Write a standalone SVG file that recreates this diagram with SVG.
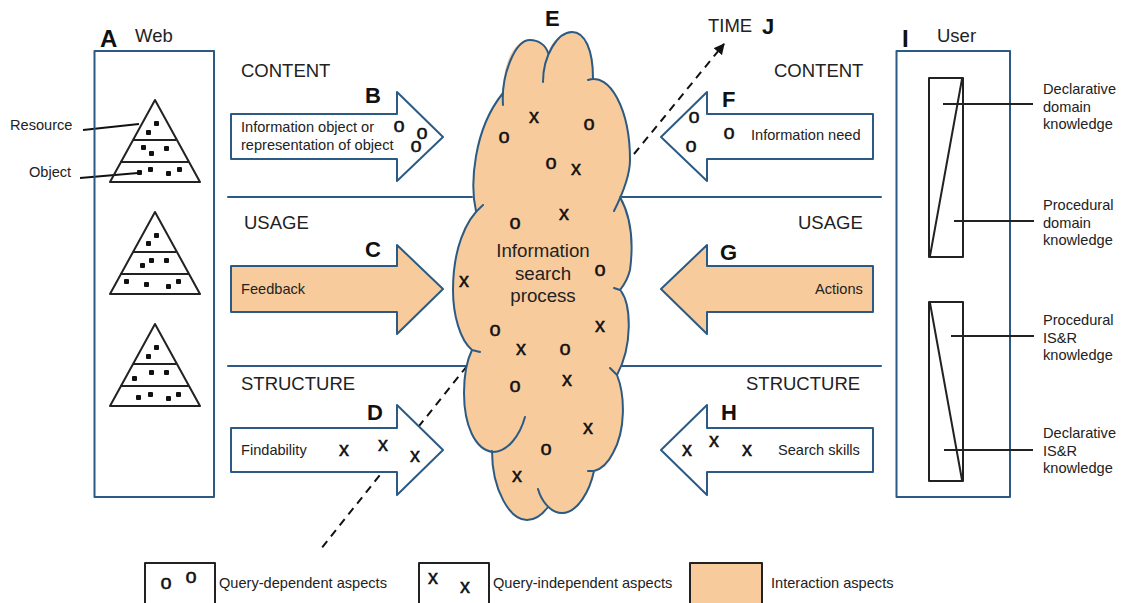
<svg xmlns="http://www.w3.org/2000/svg" width="1121" height="603" viewBox="0 0 1121 603">
<style>
text{font-family:"Liberation Sans",Arial,sans-serif;fill:#222}
.ln{fill:none;stroke:#2b5b84;stroke-width:2;stroke-linejoin:round;stroke-linecap:round}
.k{fill:none;stroke:#222;stroke-width:2;stroke-linejoin:round}
.w{fill:#fff}
.peach{fill:#f8cb9c}
.d{fill:#111;stroke:#111;stroke-width:2;stroke-linejoin:round}
.dash{stroke:#111;stroke-width:2;stroke-dasharray:8 6;fill:none}
.t{font-size:14.6px}
.h{font-size:18.500px}
.l{font-size:22px;font-weight:bold;fill:#111}
.m{font-size:20px;text-anchor:middle;fill:#111;stroke:#111;stroke-width:.5}
.c{font-size:18.700px;text-anchor:middle}
</style>
<defs>
<marker id="ah" viewBox="0 0 10 10" refX="9" refY="5" markerWidth="5.5" markerHeight="5.5" orient="auto"><path d="M0 0L10 5L0 10Z" fill="#111"/></marker>
<g id="dia"><path class="k" d="M155 0L200 82H110Z"/><path class="k" d="M133 40H176M120 62H189"/></g>
</defs>

<g id="connectors">
<path class="ln" d="M228 197H472M622 197H881M228 366H468M622 366H881"/>
<line class="dash" x1="634" y1="154" x2="724" y2="44" marker-end="url(#ah)"/>
<line class="dash" x1="467" y1="366" x2="320" y2="550"/>
<line x1="83" y1="130" x2="139" y2="124" stroke="#111" stroke-width="2"/>
<line x1="80" y1="178" x2="138" y2="173" stroke="#111" stroke-width="2"/>
</g>

<g id="web">
<rect class="ln" x="94.500" y="51" width="119.500" height="446"/>
<text x="135" y="42" style="font-size:18.500px">Web</text>
<text class="l" x="100" y="47" style="font-size:24px">A</text>
<g id="pyr1"><use href="#dia" y="100"/><path class="d" d="M155 122h3v3h-3zM147 131h3v3h-3zM142 146h3v3h-3zM150 152h3v3h-3zM165 147h3v3h-3zM138 171h3v3h-3zM149 168h3v3h-3zM167 172h3v3h-3zM178 168h3v3h-3z"/></g>
<g id="pyr2"><use href="#dia" y="212"/><path class="d" d="M155 234h3v3h-3zM147 242h3v3h-3zM141 264h3v3h-3zM150 259h3v3h-3zM165 259h3v3h-3zM125 280h3v3h-3zM145 283h3v3h-3zM167 285h3v3h-3zM177 280h3v3h-3z"/></g>
<g id="pyr3"><use href="#dia" y="324"/><path class="d" d="M155 346h3v3h-3zM147 355h3v3h-3zM133 377h3v3h-3zM150 371h3v3h-3zM165 371h3v3h-3zM137 396h3v3h-3zM149 393h3v3h-3zM167 397h3v3h-3zM177 393h3v3h-3z"/></g>
<text class="t" x="10" y="130">Resource</text>
<text class="t" x="29" y="177">Object</text>
</g>

<g id="user">
<rect class="ln" x="896.500" y="51" width="113.500" height="446"/>
<text x="937" y="42" style="font-size:18.500px">User</text>
<text class="l" x="902" y="47" style="font-size:24px">I</text>
<rect class="k" x="929" y="78" width="34" height="179"/>
<rect class="k" x="929" y="302" width="34" height="179"/>
<path class="k" d="M962 79L930 256M930 303L962 480M943 104H1033M954 221H1034M951 336H1034M944 450H1033"/>
<text class="t" x="1043" y="94">Declarative<tspan x="1043" dy="17.500">domain</tspan><tspan x="1043" dy="17.500">knowledge</tspan></text>
<text class="t" x="1043" y="210">Procedural<tspan x="1043" dy="17.500">domain</tspan><tspan x="1043" dy="17.500">knowledge</tspan></text>
<text class="t" x="1043" y="325">Procedural<tspan x="1043" dy="17.500">IS&amp;R</tspan><tspan x="1043" dy="17.500">knowledge</tspan></text>
<text class="t" x="1043" y="438">Declarative<tspan x="1043" dy="17.500">IS&amp;R</tspan><tspan x="1043" dy="17.500">knowledge</tspan></text>
</g>

<g id="node-b">
<path class="ln w" d="M231 114H397V92L443 137L397 181V159H231Z"/>
<text class="h" x="241" y="77">CONTENT</text>
<text class="l" x="365" y="103">B</text>
<text class="t" x="241" y="132">Information object or<tspan x="241" dy="18">representation of object</tspan></text>
<text class="m" x="399" y="132">o</text><text class="m" x="422" y="139">o</text><text class="m" x="416" y="152">o</text>
</g>
<g id="node-c">
<path class="ln peach" d="M231 266H397V245L443 289L397 334V312H231Z"/>
<text class="h" x="244" y="229">USAGE</text>
<text class="l" x="365" y="257">C</text>
<text class="t" x="241" y="294">Feedback</text>
</g>
<g id="node-d">
<path class="ln w" d="M231 428H397V405L443 450L397 495V472H231Z"/>
<text class="h" x="241" y="390">STRUCTURE</text>
<text class="l" x="367" y="420">D</text>
<text class="t" x="241" y="455">Findability</text>
<text class="m" x="344" y="456">x</text><text class="m" x="383" y="451">x</text><text class="m" x="415" y="462">x</text>
</g>
<g id="node-f">
<path class="ln w" d="M873 114H707V92L661 137L707 181V159H873Z"/>
<text class="h" x="774" y="77">CONTENT</text>
<text class="l" x="722" y="107">F</text>
<text class="t" x="751" y="140">Information need</text>
<text class="m" x="694" y="123">o</text><text class="m" x="729" y="139">o</text><text class="m" x="691" y="152">o</text>
</g>
<g id="node-g">
<path class="ln peach" d="M873 266H707V245L661 289L707 334V312H873Z"/>
<text class="h" x="798" y="229">USAGE</text>
<text class="l" x="720" y="260">G</text>
<text class="t" x="815" y="294">Actions</text>
</g>
<g id="node-h">
<path class="ln w" d="M873 428H707V405L661 450L707 495V472H873Z"/>
<text class="h" x="746" y="390">STRUCTURE</text>
<text class="l" x="721" y="420">H</text>
<text class="t" x="778" y="455">Search skills</text>
<text class="m" x="687" y="456">x</text><text class="m" x="714" y="447">x</text><text class="m" x="747" y="456">x</text>
</g>

<g id="node-e">
<path class="peach" d="M503 93C503 60 515 40 530 40C538 40 545 45 548 53C552 40 562 32 572 32C585 32 593 50 593 78C615 78 630 115 630 160C630 175 625 188 620 197C630 215 634 240 630 270C628 278 624 285 621 291C631 305 633 345 617 375C625 395 626 430 613 453C608 463 602 469 594 471C590 490 578 513 562 513C555 513 551 510 548 507C542 515 535 520 527 520C510 520 492 490 492 451C475 450 464 425 464 393C464 375 467 360 472 350C460 340 453 315 453 290C453 250 465 220 476 211C470 185 473 130 503 93Z"/>
<path class="ln" d="M503 105C501 75 515 40 530 40C538 40 546 45 548 53M543 82C543 55 558 32 572 32C585 32 593 50 593 78M588 80C610 72 630 110 630 160C630 175 622 195 614 211M620 197C630 215 634 240 630 270C628 278 624 285 620 290L614 288M621 291C631 305 633 345 617 375L610 368M617 375C625 395 626 430 613 453C608 463 602 469 594 471L588 471M594 471C590 490 578 513 562 513C550 513 541 500 538 489M548 507C542 515 535 520 527 520C510 520 492 490 492 451M525 417C520 435 508 452 493 452C475 450 464 425 464 393C464 375 467 360 472 350L480 352M472 350C460 340 453 315 453 290C453 250 465 220 483 205M476 211C470 185 473 130 503 93"/>
<text class="c" x="543" y="257">Information</text>
<text class="c" x="543" y="280">search</text>
<text class="c" x="543" y="302">process</text>
<text class="l" x="545" y="26">E</text>
<g>
<text class="m" x="504" y="143">o</text><text class="m" x="534" y="123">x</text><text class="m" x="589" y="130">o</text><text class="m" x="551" y="169">o</text><text class="m" x="576" y="175">x</text><text class="m" x="564" y="220">x</text><text class="m" x="515" y="229">o</text><text class="m" x="600" y="276">o</text><text class="m" x="464" y="287">x</text><text class="m" x="495" y="336">o</text><text class="m" x="521" y="355">x</text><text class="m" x="565" y="355">o</text><text class="m" x="600" y="332">x</text><text class="m" x="515" y="392">o</text><text class="m" x="567" y="386">x</text><text class="m" x="588" y="434">x</text><text class="m" x="546" y="455">o</text><text class="m" x="517" y="482">x</text>
</g>
</g>

<g id="time">
<text class="h" x="708" y="32">TIME</text>
<text class="l" x="762" y="34">J</text>
</g>

<g id="legend">
<g id="legend-1"><rect class="k" x="145" y="563" width="70" height="44"/><text class="m" x="166" y="589">o</text><text class="m" x="191" y="583">o</text><text class="t" x="219" y="588">Query-dependent aspects</text></g>
<g id="legend-2"><rect class="k" x="419" y="563" width="70" height="44"/><text class="m" x="433" y="584">x</text><text class="m" x="465" y="593">x</text><text class="t" x="493" y="588">Query-independent aspects</text></g>
<g id="legend-3"><rect class="k" style="fill:#f8cb9c" x="690" y="563" width="72" height="44"/><text class="t" x="771" y="588">Interaction aspects</text></g>
</g>
</svg>
